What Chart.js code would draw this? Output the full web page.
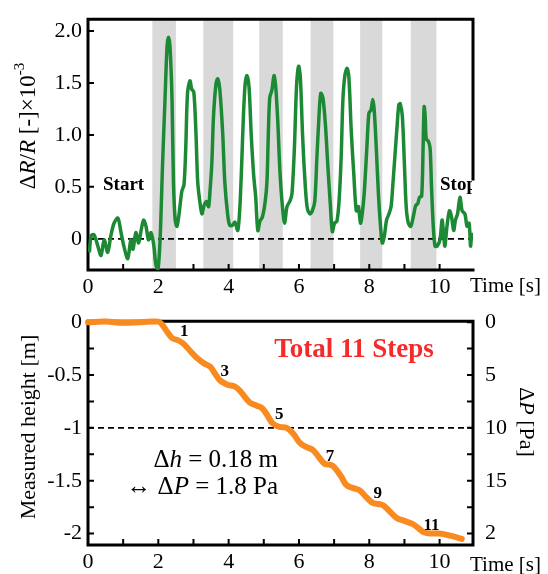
<!DOCTYPE html>
<html><head><meta charset="utf-8">
<script src="https://cdn.jsdelivr.net/npm/chart.js@4/dist/chart.umd.min.js"></script>
<style>
body{margin:0;background:#fff;width:548px;height:574px;position:relative;overflow:hidden}
#c1{position:absolute;left:0;top:0}
#c2{position:absolute;left:0;top:296px}
</style></head><body>
<canvas id="c1" width="548" height="296"></canvas>
<canvas id="c2" width="548" height="278"></canvas>
<script>
// ---------- data ----------
const timeTicks = [0, 2, 4, 6, 8, 10];
const timeLabels = ['0', '2', '4', '6', '8', '10'];

const resistTicks = [0, 0.5, 1, 1.5, 2];
const resistLabels = ['0', '0.5', '1.0', '1.5', '2.0'];

const heightTicks = [0, -0.5, -1, -1.5, -2];
const heightLabels = ['0', '-0.5', '-1', '-1.5', '-2'];

const pressureTicks = [0, 5, 10, 15, 20];
const pressureLabels = ['0', '5', '10', '15', '2'];

// valve-open intervals (shaded) [start, end] in s
const bandStart = [1.83, 3.28, 4.87, 6.33, 7.74, 9.18];
const bandEnd   = [2.50, 4.13, 5.54, 6.98, 8.37, 9.91];

// ΔR/R ×10^-3 signal
const signalTime = [0.04,0.09,0.17,0.28,0.37,0.46,0.56,0.65,0.74,0.85,0.94,1.02,1.13,1.22,1.28,1.36,1.44,1.51,1.58,1.65,1.72,1.79,1.87,1.93,1.99,2.05,2.12,2.19,2.25,2.29,2.33,2.39,2.43,2.48,2.53,2.59,2.67,2.73,2.78,2.83,2.90,2.95,3.01,3.07,3.12,3.18,3.24,3.30,3.37,3.43,3.47,3.52,3.57,3.64,3.69,3.75,3.83,3.89,3.97,4.03,4.11,4.18,4.26,4.32,4.37,4.42,4.47,4.52,4.58,4.64,4.71,4.77,4.83,4.89,4.96,5.04,5.09,5.13,5.17,5.23,5.29,5.34,5.40,5.46,5.53,5.59,5.66,5.74,5.80,5.87,5.93,5.99,6.04,6.10,6.16,6.23,6.31,6.38,6.45,6.51,6.57,6.62,6.68,6.75,6.82,6.89,6.95,7.01,7.08,7.14,7.20,7.25,7.31,7.37,7.42,7.49,7.56,7.63,7.69,7.75,7.80,7.86,7.93,7.99,8.05,8.10,8.14,8.20,8.26,8.32,8.37,8.43,8.49,8.56,8.62,8.67,8.73,8.79,8.84,8.88,8.94,9.00,9.05,9.11,9.18,9.25,9.32,9.38,9.43,9.49,9.53,9.56,9.59,9.62,9.68,9.73,9.77,9.82,9.87,9.93,10.01,10.07,10.11,10.15,10.21,10.28,10.34,10.40,10.45,10.51,10.58,10.64,10.72,10.78,10.84,10.88,10.91];
const signalValue = [-0.13,0.03,0.04,-0.07,-0.16,-0.01,-0.13,0.03,0.15,0.20,0.06,-0.07,-0.19,-0.01,-0.10,0.06,-0.04,0.08,0.18,0.12,-0.01,0.06,-0.06,-0.25,-0.29,-0.01,0.71,1.34,1.86,1.94,1.86,1.34,0.55,0.18,0.12,0.24,0.46,0.52,0.87,1.40,1.52,1.44,1.41,1.02,0.55,0.36,0.24,0.32,0.36,0.31,0.46,0.71,1.18,1.49,1.54,1.43,1.02,0.55,0.24,0.13,0.13,0.16,0.08,0.31,0.71,1.18,1.49,1.57,1.46,1.02,0.62,0.40,0.08,0.17,0.21,0.36,0.55,1.02,1.36,1.43,1.57,1.46,1.11,0.64,0.31,0.15,0.31,0.36,0.43,0.87,1.46,1.66,1.55,1.02,0.62,0.31,0.24,0.27,0.36,0.78,1.18,1.40,1.36,1.11,0.71,0.34,0.07,0.15,0.17,0.36,0.78,1.34,1.58,1.64,1.55,1.02,0.62,0.27,0.31,0.15,0.24,0.46,0.87,1.21,1.24,1.34,1.24,0.87,0.43,0.12,-0.04,0.03,0.18,0.24,0.31,0.52,0.80,1.08,1.29,1.30,1.18,0.71,0.31,0.15,0.12,0.21,0.32,0.34,0.40,0.41,0.87,1.27,1.18,0.96,0.94,0.87,0.50,0.12,-0.07,-0.07,-0.01,0.18,0.06,-0.07,0.12,0.27,0.21,0.08,0.18,0.24,0.40,0.27,0.24,0.12,0.15,-0.07,0.06];

// measured height [m]
const heightTime = [0,0.5,1.0,1.5,2.0,2.1,2.25,2.39,2.55,2.7,2.9,3.1,3.3,3.47,3.6,3.75,3.95,4.18,4.35,4.6,4.8,4.94,5.1,5.26,5.45,5.65,5.85,6.02,6.2,6.4,6.55,6.73,6.9,7.0,7.2,7.35,7.55,7.72,7.9,8.1,8.25,8.38,8.55,8.77,9.0,9.24,9.4,9.57,9.8,10.0,10.3,10.63];
const heightValue = [0,0.005,-0.005,0.0,0.005,-0.02,-0.09,-0.15,-0.17,-0.20,-0.27,-0.34,-0.39,-0.42,-0.48,-0.55,-0.59,-0.61,-0.66,-0.76,-0.79,-0.81,-0.88,-0.96,-0.99,-1.0,-1.06,-1.14,-1.18,-1.21,-1.27,-1.34,-1.35,-1.37,-1.46,-1.54,-1.57,-1.59,-1.65,-1.71,-1.72,-1.73,-1.78,-1.85,-1.88,-1.91,-1.95,-1.99,-2.0,-2.0,-2.02,-2.05];

// step labels on the height curve
const stepNames = ['1', '3', '5', '7', '9', '11'];
const stepTime  = [2.74, 3.89, 5.44, 6.88, 8.24, 9.77];
const stepValue = [-0.09, -0.47, -0.87, -1.27, -1.62, -1.92];

// ---------- helpers ----------
const SERIF = '"Liberation Serif", "Times New Roman", serif';
function fontOf(s, size) {
  const sz = s.sup ? Math.round(size * 0.65) : size;
  return (s.i ? 'italic ' : '') + (s.b ? 'bold ' : '') + sz + 'px ' + SERIF;
}
function richText(ctx, segs, x, y, align, size, rot, baseline) {
  ctx.save();
  ctx.translate(x, y);
  ctx.rotate(rot || 0);
  ctx.textBaseline = baseline || 'alphabetic';
  ctx.textAlign = 'left';
  ctx.fillStyle = '#000';
  let w = 0;
  segs.forEach(s => { ctx.font = fontOf(s, size); s.w = ctx.measureText(s.t).width; w += s.w; });
  let cx = align === 'center' ? -w / 2 : align === 'right' ? -w : 0;
  segs.forEach(s => {
    ctx.font = fontOf(s, size);
    ctx.fillText(s.t, cx, s.sup ? -size * 0.4 : 0);
    cx += s.w;
  });
  ctx.restore();
}
function fixTicks(values) {
  return s => { s.ticks = values.map(v => ({ value: v })); };
}
const tickFont = { family: SERIF, size: 22 };

function drawInwardTicks(ctx, scale, values, side, a, len) {
  ctx.save();
  ctx.strokeStyle = '#000';
  ctx.lineWidth = 2;
  ctx.beginPath();
  values.forEach(v => {
    const p = scale.getPixelForValue(v);
    if (side === 'bottom') { ctx.moveTo(p, a.bottom); ctx.lineTo(p, a.bottom - len); }
    if (side === 'left')   { ctx.moveTo(a.left, p); ctx.lineTo(a.left + len, p); }
    if (side === 'right')  { ctx.moveTo(a.right, p); ctx.lineTo(a.right - len, p); }
  });
  ctx.stroke();
  ctx.restore();
}
function dashedH(ctx, scale, v, a) {
  const p = scale.getPixelForValue(v);
  ctx.save();
  ctx.strokeStyle = '#000';
  ctx.lineWidth = 1.8;
  ctx.setLineDash([6, 4]);
  ctx.beginPath(); ctx.moveTo(a.left, p); ctx.lineTo(a.right, p); ctx.stroke();
  ctx.restore();
}
function frame(ctx, a, rightEnd) {
  ctx.save();
  ctx.strokeStyle = '#000';
  ctx.lineWidth = 3;
  ctx.lineCap = 'square';
  ctx.beginPath();
  ctx.moveTo(a.left, a.bottom); ctx.lineTo(a.left, a.top); ctx.lineTo(a.right, a.top);
  ctx.lineTo(a.right, rightEnd);
  ctx.moveTo(a.left, a.bottom); ctx.lineTo(a.right, a.bottom);
  ctx.stroke();
  ctx.restore();
}
const minorTime = [1, 2, 3, 4, 5, 6, 7, 8, 9, 10];

// ---------- top chart ----------
const topPlugin = {
  id: 'topDecor',
  beforeDatasetsDraw(chart) {
    const { ctx, chartArea: a, scales: { x, y } } = chart;
    ctx.save();
    ctx.fillStyle = '#d9d9d9';
    bandStart.forEach((s, i) => {
      const x0 = x.getPixelForValue(s), x1 = x.getPixelForValue(bandEnd[i]);
      ctx.fillRect(x0, a.top + 1, x1 - x0, a.bottom - a.top - 1);
    });
    ctx.restore();
    dashedH(ctx, y, 0, a);
    frame(ctx, a, 179);
    drawInwardTicks(ctx, x, minorTime, 'bottom', a, 6);
    drawInwardTicks(ctx, y, resistTicks, 'left', a, 6);
  },
  afterDatasetsDraw(chart) {
    const { ctx, chartArea: a, scales: { x, y } } = chart;
    ctx.save();
    ctx.font = 'bold 19px ' + SERIF;
    ctx.fillStyle = '#000';
    ctx.textBaseline = 'middle';
    ctx.fillText('Start', 103, 185);
    ctx.beginPath(); ctx.rect(0, 0, a.right - 1, chart.height); ctx.clip();
    ctx.fillText('Stop', 440, 185);
    ctx.restore();
    ctx.save();
    ctx.font = '21px ' + SERIF;
    ctx.fillStyle = '#000';
    ctx.textBaseline = 'middle';
    ctx.fillText('Time [s]', 470, 286);
    ctx.restore();
    richText(ctx, [{ t: 'Δ' }, { t: 'R', i: true }, { t: '/' }, { t: 'R', i: true }, { t: ' [-]×10' }, { t: '-3', sup: true }],
      29, 126, 'center', 23, -Math.PI / 2, 'middle');
  }
};

new Chart(document.getElementById('c1'), {
  type: 'line',
  data: { datasets: [{
    data: signalTime.map((t, i) => ({ x: t, y: signalValue[i] })),
    borderColor: '#1c8a34', borderWidth: 3.5, pointRadius: 0, tension: 0.3, fill: false
  }] },
  options: {
    responsive: false, animation: false, events: [],
    layout: { padding: { top: 13, right: 75, left: 0, bottom: 0 } },
    plugins: { legend: { display: false }, tooltip: { enabled: false } },
    scales: {
      x: {
        type: 'linear', min: 0, max: 10.95,
        afterBuildTicks: fixTicks(timeTicks),
        afterFit: s => { s.height = 26; },
        grid: { display: false, drawTicks: false }, border: { display: false },
        ticks: { font: tickFont, color: '#000', padding: 4, maxRotation: 0, autoSkip: false,
                 callback: (v, i) => timeLabels[i] }
      },
      y: {
        type: 'linear', min: -0.30, max: 2.113,
        afterBuildTicks: fixTicks(resistTicks),
        afterFit: s => { s.width = 88; },
        grid: { display: false, drawTicks: false }, border: { display: false },
        ticks: { font: tickFont, color: '#000', padding: 6, autoSkip: false,
                 callback: (v, i) => resistLabels[i] }
      }
    }
  },
  plugins: [topPlugin]
});

// ---------- bottom chart ----------
const minorHeight = [0, -0.25, -0.5, -0.75, -1, -1.25, -1.5, -1.75, -2];
const botPlugin = {
  id: 'botDecor',
  beforeDatasetsDraw(chart) {
    const { ctx, chartArea: a, scales: { x, y } } = chart;
    dashedH(ctx, y, -1, a);
    frame(ctx, a, a.bottom);
    drawInwardTicks(ctx, x, minorTime, 'bottom', a, 6);
    drawInwardTicks(ctx, y, minorHeight, 'left', a, 6);
    drawInwardTicks(ctx, y, minorHeight, 'right', a, 6);
  },
  afterDatasetsDraw(chart) {
    const { ctx, chartArea: a, scales: { x, y } } = chart;
    ctx.save();
    ctx.fillStyle = '#000';
    ctx.font = 'bold 17px ' + SERIF;
    ctx.textAlign = 'center';
    ctx.textBaseline = 'middle';
    stepNames.forEach((n, i) => {
      ctx.fillText(n, x.getPixelForValue(stepTime[i]), y.getPixelForValue(stepValue[i]));
    });
    ctx.fillStyle = '#f52a2a';
    ctx.font = 'bold 27px ' + SERIF;
    ctx.textBaseline = 'alphabetic';
    ctx.fillText('Total 11 Steps', 354, 61);
    ctx.fillStyle = '#000';
    ctx.font = '21px ' + SERIF;
    ctx.textAlign = 'left';
    ctx.textBaseline = 'middle';
    ctx.fillText('Time [s]', 470, 269);
    ctx.restore();
    richText(ctx, [{ t: 'Δ' }, { t: 'h', i: true }, { t: ' = 0.18 m' }], 278, 171, 'right', 25, 0);
    richText(ctx, [{ t: '↔ Δ' }, { t: 'P', i: true }, { t: ' = 1.8 Pa' }], 278, 198, 'right', 25, 0);
    richText(ctx, [{ t: 'Measured height [m]' }], 29, 131, 'center', 22, -Math.PI / 2, 'middle');
    richText(ctx, [{ t: 'Δ' }, { t: 'P', i: true }, { t: ' [Pa]' }], 526, 126, 'center', 22, Math.PI / 2, 'middle');
  }
};

new Chart(document.getElementById('c2'), {
  type: 'line',
  data: { datasets: [{
    data: heightTime.map((t, i) => ({ x: t, y: heightValue[i] })),
    borderColor: '#f88a20', borderWidth: 6, pointRadius: 0, tension: 0.4,
    borderCapStyle: 'round', borderJoinStyle: 'round', fill: false, clip: false
  }] },
  options: {
    responsive: false, animation: false, events: [],
    layout: { padding: { top: 13, right: 0, left: 0, bottom: 0 } },
    plugins: { legend: { display: false }, tooltip: { enabled: false } },
    scales: {
      x: {
        type: 'linear', min: 0, max: 10.95,
        afterBuildTicks: fixTicks(timeTicks),
        afterFit: s => { s.height = 29; },
        grid: { display: false, drawTicks: false }, border: { display: false },
        ticks: { font: tickFont, color: '#000', padding: 4, maxRotation: 0, autoSkip: false,
                 callback: (v, i) => timeLabels[i] }
      },
      y: {
        type: 'linear', min: -2.108, max: 0.009,
        afterBuildTicks: fixTicks(heightTicks),
        afterFit: s => { s.width = 88; },
        grid: { display: false, drawTicks: false }, border: { display: false },
        ticks: { font: tickFont, color: '#000', padding: 6, autoSkip: false,
                 callback: (v, i) => heightLabels[i] }
      },
      y2: {
        type: 'linear', position: 'right', reverse: true, min: -0.09, max: 21.08,
        afterBuildTicks: fixTicks(pressureTicks),
        afterFit: s => { s.width = 75; },
        grid: { display: false, drawTicks: false }, border: { display: false },
        ticks: { font: tickFont, color: '#000', padding: 12, autoSkip: false,
                 callback: (v, i) => pressureLabels[i] }
      }
    }
  },
  plugins: [botPlugin]
});
</script>
</body></html>
